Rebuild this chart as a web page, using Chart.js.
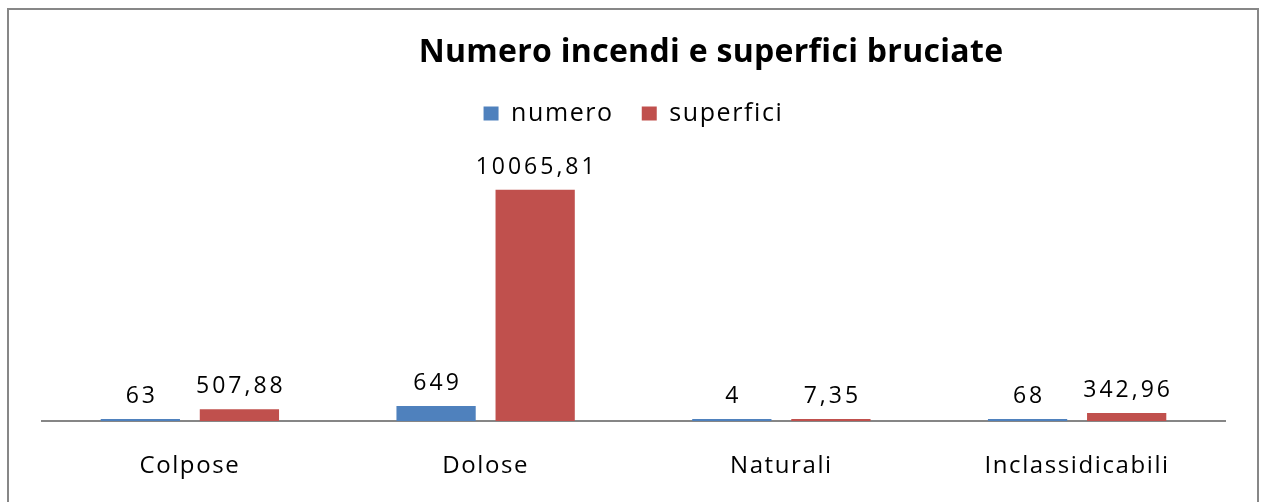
<!DOCTYPE html>
<html>
<head>
<meta charset="utf-8">
<script src="https://cdn.jsdelivr.net/npm/chart.js@4/dist/chart.umd.min.js"></script>
<style>
  html, body { margin: 0; padding: 0; background: #fff; overflow: hidden; }
  #wrap { position: relative; width: 1261px; height: 502px; }
  #frame {
    position: absolute; left: 7px; top: 8px; width: 1252px; height: 560px;
    border: 2px solid #878787; box-sizing: border-box;
  }
  #cv { position: absolute; left: 0; top: 0; }
</style>
</head>
<body>
<div id="wrap">
  <div id="frame"></div>
  <canvas id="cv" width="1261" height="502"></canvas>
</div>
<script>
  const categorie = ["Colpose", "Dolose", "Naturali", "Inclassidicabili"];
  const numero = [63, 649, 4, 68];
  const superfici = [507.88, 10065.81, 7.35, 342.96];
  const titolo = "Numero incendi e superfici bruciate";

  const FONT = "'Open Sans', sans-serif";

  // wide-ish text, like the spreadsheet export
  const spacing = {
    id: "spacing",
    beforeUpdate(chart) { chart.ctx.letterSpacing = "1.6px"; },
    beforeDraw(chart) { chart.ctx.letterSpacing = "1.6px"; }
  };

  // title sits right of center, drawn by hand
  const titlePlugin = {
    id: "titolo",
    afterDraw(chart) {
      const ctx = chart.ctx;
      ctx.save();
      ctx.letterSpacing = "0.3px";
      ctx.font = "bold 32px " + FONT;
      ctx.fillStyle = "#000";
      ctx.textAlign = "center";
      ctx.textBaseline = "alphabetic";
      ctx.fillText(titolo, 711, 62);
      ctx.restore();
    }
  };

  // value labels above each bar, with decimal comma
  const labelPlugin = {
    id: "etichette",
    afterDatasetsDraw(chart) {
      const ctx = chart.ctx;
      ctx.save();
      ctx.letterSpacing = "3px";
      ctx.font = "23px " + FONT;
      ctx.fillStyle = "#000";
      ctx.textAlign = "center";
      ctx.textBaseline = "alphabetic";
      chart.data.datasets.forEach((ds, i) => {
        chart.getDatasetMeta(i).data.forEach((bar, j) => {
          const txt = String(ds.data[j]).replace(".", ",");
          ctx.fillText(txt, bar.x + 1.5, Math.min(bar.y, bar.base) - 16);
        });
      });
      ctx.restore();
    }
  };

  new Chart(document.getElementById("cv"), {
    type: "bar",
    data: {
      labels: categorie,
      datasets: [
        {
          label: "numero",
          data: numero,
          backgroundColor: "#4F81BD",
          minBarLength: 2,
          categoryPercentage: 0.67,
          barPercentage: 0.8
        },
        {
          label: "superfici",
          data: superfici,
          backgroundColor: "#C0504D",
          minBarLength: 2,
          categoryPercentage: 0.67,
          barPercentage: 0.8
        }
      ]
    },
    options: {
      responsive: false,
      animation: false,
      layout: { padding: { left: 42, right: 36, top: 73, bottom: 0 } },
      plugins: {
        legend: {
          position: "top",
          labels: {
            font: { family: FONT, size: 25 },
            color: "#000",
            boxWidth: 15,
            boxHeight: 14,
            padding: 28
          }
        },
        tooltip: { enabled: false }
      },
      scales: {
        x: {
          grid: { display: false, drawTicks: false },
          border: { display: true, color: "#868686", width: 2 },
          ticks: { font: { family: FONT, size: 24 }, color: "#000", padding: 31 },
          afterFit(scale) { scale.height = 81; }
        },
        y: {
          display: false,
          min: 0,
          max: 12400
        }
      }
    },
    plugins: [spacing, titlePlugin, labelPlugin]
  });
</script>
</body>
</html>
